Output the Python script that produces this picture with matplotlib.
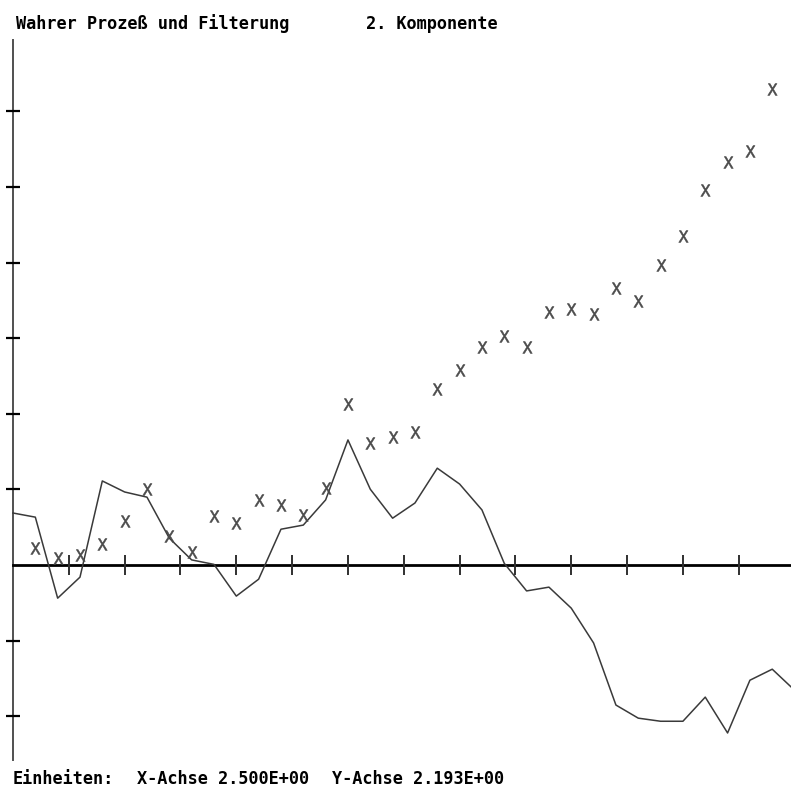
import numpy as np
import matplotlib.pyplot as plt

plt.rcParams['mathtext.fontset'] = 'custom'
plt.rcParams['mathtext.rm'] = 'DejaVu Sans Mono'

# Zeitschritte und Werte (2. Komponente)
t_linie = np.arange(0, 36)
wahrer_prozess = [1.51, 1.39, -0.96, -0.35, 2.44, 2.12, 1.97, 0.78, 0.15, 0.02,
                  -0.90, -0.41, 1.04, 1.16, 1.89, 3.63, 2.20, 1.36, 1.80, 2.81,
                  2.35, 1.60, 0.05, -0.75, -0.64, -1.25, -2.26, -4.06, -4.44, -4.53,
                  -4.53, -3.83, -4.87, -3.34, -3.02, -3.63]

t_kreuz = np.arange(1, 35)
filterung = [0.49, 0.20, 0.29, 0.61, 1.28, 2.20, 0.84, 0.38, 1.42, 1.22,
             1.88, 1.74, 1.45, 2.23, 4.67, 3.54, 3.71, 3.86, 5.10, 5.66,
             6.32, 6.64, 6.32, 7.34, 7.43, 7.28, 8.04, 7.66, 8.70, 9.54,
             10.88, 11.69, 12.01, 13.81]

# Einheiten der Achsen (Abstand der Teilstriche)
x_einheit = 2.5
y_einheit = 2.193
x_striche = x_einheit * np.arange(1, 14)
y_striche = y_einheit * np.array([-2, -1, 1, 2, 3, 4, 5, 6])

fig = plt.figure(figsize=(7.91, 7.94), dpi=100)
ax = fig.add_axes([0, 0, 1, 1])

ax.plot(t_linie, wahrer_prozess, color='#3a3a3a', lw=1.1)
ax.plot(t_kreuz, filterung, ls='none', marker=r'$\mathrm{X}$', ms=8.5,
        color='#4a4a4a', mew=0.4)

ax.set_xlim(-0.582, 34.84)
ax.set_ylim(-6.64, 16.39)

# Achsenkreuz durch den Nullpunkt
for s in ['top', 'right']:
    ax.spines[s].set_visible(False)
ax.spines['left'].set_position(('data', 0))
ax.spines['bottom'].set_position(('data', 0))
ax.spines['left'].set_bounds(-5.66, 15.23)
ax.spines['bottom'].set_bounds(0, 34.84)
ax.spines['left'].set_color('#505050')
ax.spines['left'].set_linewidth(1.4)
ax.spines['bottom'].set_color('black')
ax.spines['bottom'].set_linewidth(2.0)
ax.spines['left'].set_zorder(1)
ax.spines['bottom'].set_zorder(1)

ax.set_xticks(x_striche)
ax.set_yticks(y_striche)
ax.set_xticklabels([])
ax.set_yticklabels([])
ax.tick_params(axis='x', direction='inout', length=14, width=1.4, color='#303030')
ax.tick_params(axis='y', direction='inout', length=10, width=1.6, color='black')
ax.patch.set_visible(False)

schrift = 'DejaVu Sans Mono'
groesse = 12.2
fig.text(16 / 791, 1 - 29 / 794, 'Wahrer Prozeß und Filterung', family=schrift,
         fontsize=groesse, fontweight='bold', va='baseline', ha='left')
fig.text(366 / 791, 1 - 29 / 794, '2. Komponente', family=schrift,
         fontsize=groesse, fontweight='bold', va='baseline', ha='left')
fig.text(13 / 791, 1 - 784 / 794, 'Einheiten:', family=schrift,
         fontsize=groesse, fontweight='bold', va='baseline', ha='left')
fig.text(137 / 791, 1 - 784 / 794, 'X-Achse %.3E' % x_einheit, family=schrift,
         fontsize=groesse, fontweight='bold', va='baseline', ha='left')
fig.text(332 / 791, 1 - 784 / 794, 'Y-Achse %.3E' % y_einheit, family=schrift,
         fontsize=groesse, fontweight='bold', va='baseline', ha='left')

fig.savefig('out.png', dpi=100)
